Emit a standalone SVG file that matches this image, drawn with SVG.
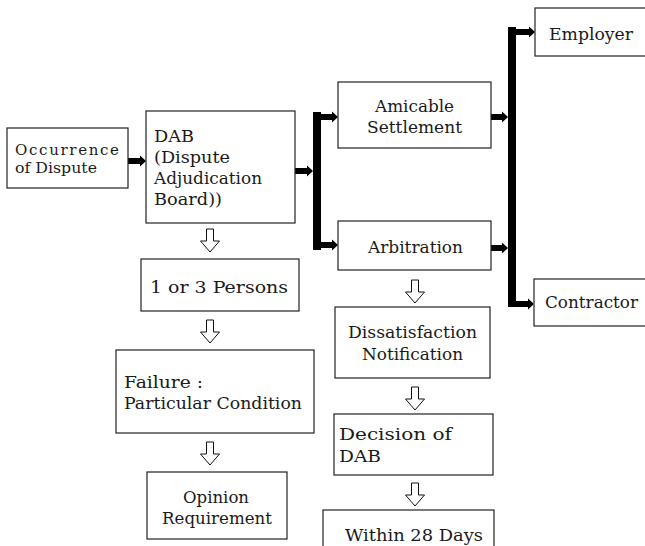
<svg xmlns="http://www.w3.org/2000/svg" xmlns:xlink="http://www.w3.org/1999/xlink" width="645" height="546" viewBox="0 0 645 546">
  <style>
    .box { fill: #fff; stroke: #222; stroke-width: 1.2; }
    .lbl { font-family: "DejaVu Serif", "Liberation Serif", serif; font-size: 17px; fill: #1a1a1a; }
    .sm { font-size: 15px; }
    .bar { fill: #000; }
    .hollow { fill: #fff; stroke: #111; stroke-width: 1; }
  </style>
  <defs>
    <!-- hollow downward step arrow -->
    <path id="down" class="hollow" d="M -3.5 0 H 3.5 V 12 H 9.5 L 0 23 L -9.5 12 H -3.5 Z"/>
  </defs>
  <rect width="645" height="546" fill="#fff"/>

  <!-- connectors -->
  <g id="connectors">
    <path class="bar" d="M128 158 H140 V155.5 L146 161 L140 166.5 V164 H128 Z"/>
    <path class="bar" d="M295 168 H307 V165.5 L313 171 L307 176.5 V174 H295 Z"/>
    <rect class="bar" x="313" y="112" width="8" height="138"/>
    <path class="bar" d="M320 114 H332 V111.5 L338 117 L332 122.5 V120 H320 Z"/>
    <path class="bar" d="M320 242 H332 V239.5 L338 245 L332 250.5 V248 H320 Z"/>
    <path class="bar" d="M491 114 H502 V111.5 L508 117 L502 122.5 V120 H491 Z"/>
    <path class="bar" d="M491 245 H502 V242.5 L508 248 L502 253.5 V251 H491 Z"/>
    <rect class="bar" x="508" y="27" width="8" height="280"/>
    <path class="bar" d="M515 29 H529 V26.5 L535 32 L529 37.5 V35 H515 Z"/>
    <path class="bar" d="M515 301 H528 V298.5 L534 304 L528 309.5 V307 H515 Z"/>
    <use xlink:href="#down" x="210" y="229"/>
    <use xlink:href="#down" x="210" y="320"/>
    <use xlink:href="#down" x="210" y="442"/>
    <use xlink:href="#down" x="415" y="280"/>
    <use xlink:href="#down" x="415" y="387"/>
    <use xlink:href="#down" x="415" y="483"/>
  </g>

  <g id="occurrence">
    <rect class="box" x="7" y="128" width="121" height="60"/>
    <text class="lbl sm" x="15" y="155" textLength="104">Occurrence</text>
    <text class="lbl sm" x="15" y="173" textLength="82" lengthAdjust="spacingAndGlyphs">of Dispute</text>
  </g>
  <g id="dab">
    <rect class="box" x="146" y="111" width="149" height="112"/>
    <text class="lbl" x="154" y="142" textLength="40" lengthAdjust="spacingAndGlyphs">DAB</text>
    <text class="lbl" x="154" y="163" textLength="76" lengthAdjust="spacingAndGlyphs">(Dispute</text>
    <text class="lbl" x="154" y="184" textLength="108" lengthAdjust="spacingAndGlyphs">Adjudication</text>
    <text class="lbl" x="154" y="205" textLength="68" lengthAdjust="spacingAndGlyphs">Board))</text>
  </g>
  <g id="amicable">
    <rect class="box" x="338" y="82" width="153" height="66"/>
    <text class="lbl" x="375" y="112" textLength="79" lengthAdjust="spacingAndGlyphs">Amicable</text>
    <text class="lbl" x="367" y="133" textLength="95" lengthAdjust="spacingAndGlyphs">Settlement</text>
  </g>
  <g id="arbitration">
    <rect class="box" x="338" y="221" width="153" height="49"/>
    <text class="lbl" x="368" y="253" textLength="95" lengthAdjust="spacingAndGlyphs">Arbitration</text>
  </g>
  <g id="employer">
    <rect class="box" x="535" y="8" width="120" height="48"/>
    <text class="lbl" x="549" y="40" textLength="84" lengthAdjust="spacingAndGlyphs">Employer</text>
  </g>
  <g id="contractor">
    <rect class="box" x="534" y="279" width="120" height="47"/>
    <text class="lbl" x="545" y="308" textLength="93" lengthAdjust="spacingAndGlyphs">Contractor</text>
  </g>
  <g id="persons">
    <rect class="box" x="141" y="259" width="158" height="52"/>
    <text class="lbl" x="150" y="293" textLength="138" lengthAdjust="spacingAndGlyphs">1 or 3 Persons</text>
  </g>
  <g id="failure">
    <rect class="box" x="116" y="350" width="198" height="83"/>
    <text class="lbl" x="124" y="388" textLength="79" lengthAdjust="spacingAndGlyphs">Failure :</text>
    <text class="lbl" x="124" y="409" textLength="178" lengthAdjust="spacingAndGlyphs">Particular Condition</text>
  </g>
  <g id="opinion">
    <rect class="box" x="147" y="472" width="140" height="67"/>
    <text class="lbl" x="183" y="503" textLength="66" lengthAdjust="spacingAndGlyphs">Opinion</text>
    <text class="lbl" x="162" y="524" textLength="110" lengthAdjust="spacingAndGlyphs">Requirement</text>
  </g>
  <g id="dissatisfaction">
    <rect class="box" x="335" y="307" width="155" height="71"/>
    <text class="lbl" x="348" y="338" textLength="129" lengthAdjust="spacingAndGlyphs">Dissatisfaction</text>
    <text class="lbl" x="362" y="360" textLength="101" lengthAdjust="spacingAndGlyphs">Notification</text>
  </g>
  <g id="decision">
    <rect class="box" x="334" y="414" width="159" height="61"/>
    <text class="lbl" x="339" y="440" textLength="113" lengthAdjust="spacingAndGlyphs">Decision of</text>
    <text class="lbl" x="339" y="462" textLength="42" lengthAdjust="spacingAndGlyphs">DAB</text>
  </g>
  <g id="within">
    <rect class="box" x="323" y="510" width="171" height="50"/>
    <text class="lbl" x="345" y="541" textLength="138" lengthAdjust="spacingAndGlyphs">Within 28 Days</text>
  </g>
</svg>
